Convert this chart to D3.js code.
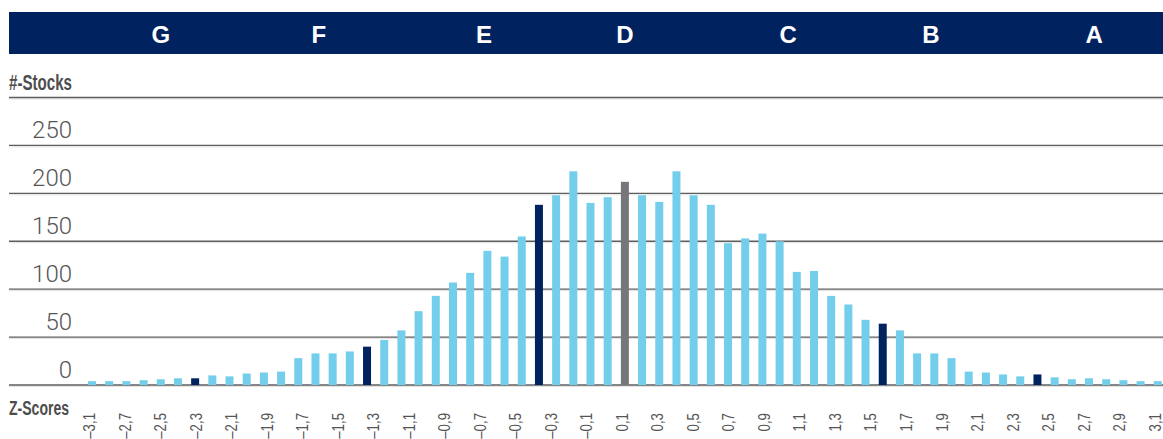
<!DOCTYPE html>
<html>
<head>
<meta charset="utf-8">
<script src="https://cdn.jsdelivr.net/npm/d3@7"></script>
<style>
  body { margin: 0; background: #fff; }
  svg { display: block; }
</style>
</head>
<body>
<svg id="canvas"></svg>
<script>
// rating bands shown in the header, with the z-score they sit over
let grades = ["G", "F", "E", "D", "C", "B", "A"]
let gradeZ = [-2.7, -1.78, -0.82, 0, 0.95, 1.78, 2.73]

// one bucket per 0.1 z-score
let buckets = [-3.1,-3.0,-2.9,-2.8,-2.7,-2.6,-2.5,-2.4,-2.3,-2.2,-2.1,-2.0,-1.9,-1.8,-1.7,-1.6,
  -1.5,-1.4,-1.3,-1.2,-1.1,-1.0,-0.9,-0.8,-0.7,-0.6,-0.5,-0.4,-0.3,-0.2,-0.1,0.0,
  0.1,0.2,0.3,0.4,0.5,0.6,0.7,0.8,0.9,1.0,1.1,1.2,1.3,1.4,1.5,1.6,
  1.7,1.8,1.9,2.0,2.1,2.2,2.3,2.4,2.5,2.6,2.7,2.8,2.9,3.0,3.1]
let stocks = [4,4,4,5,6,7,7,10,9,12,13,14,28,33,33,35,40,47,57,77,93,107,117,140,134,155,188,198,223,190,
  196,212,198,191,223,198,188,148,153,158,150,118,119,93,84,68,64,57,33,33,28,14,13,11,9,11,8,6,7,6,5,4,4]
let darkBuckets = [6, 16, 26, 46, 55]
let greyBuckets = [31]

let zLabels = ["–3,1","–2,7","–2,5","–2,3","–2,1","–1,9","–1,7","–1,5","–1,3","–1,1","–0,9","–0,7",
  "–0,5","–0,3","–0,1","0,1","0,3","0,5","0,7","0,9","1,1","1,3","1,5","1,7","1,9","2,1","2,3",
  "2,5","2,7","2,9","3,1"]
let yLabels = [0, 50, 100, 150, 200, 250]
let gridValues = [0, 50, 100, 150, 200, 250, 300]

let width = 1163
let height = 439
let left = 9

let sans = "'Liberation Sans', Arial, sans-serif"

let svg = d3.select("#canvas")
svg.attr("width", width)
svg.attr("height", height)

let step = 17.19
let xScale = d3.scaleBand()
    .domain(buckets.map((d, i) => i))
    .range([92 - step / 2, 92 - step / 2 + buckets.length * step])
    .paddingInner(0.535)
    .paddingOuter(0.2675)

let zScale = d3.scaleLinear()
    .domain([-3.1, 3.1])
    .range([92, 92 + (buckets.length - 1) * step])

let yScale = d3.scaleLinear()
    .domain([0, 300])
    .range([385, 97.5])

let labelScale = d3.scalePoint()
    .domain(zLabels)
    .range([88.5, 1154])

let drawHeader = () => {
    svg.append("rect")
        .attr("x", left)
        .attr("y", 12)
        .attr("width", width - left)
        .attr("height", 42)
        .attr("fill", "#002360")

    svg.selectAll(".grade")
        .data(grades)
        .enter()
        .append("text")
        .attr("class", "grade")
        .attr("x", (d, i) => zScale(gradeZ[i]))
        .attr("y", 43)
        .attr("text-anchor", "middle")
        .attr("fill", "#fff")
        .style("font-family", sans)
        .style("font-weight", "bold")
        .style("font-size", "24px")
        .text(d => d)
}

let drawGrid = () => {
    let g = svg.append("g")
    g.selectAll(".shadow")
        .data(gridValues)
        .enter()
        .append("line")
        .attr("x1", left).attr("x2", width)
        .attr("y1", d => yScale(d) + 1.5).attr("y2", d => yScale(d) + 1.5)
        .attr("stroke", "#e2e2e2")
        .attr("stroke-width", 1)
    g.selectAll(".grid")
        .data(gridValues)
        .enter()
        .append("line")
        .attr("x1", left).attr("x2", width)
        .attr("y1", d => yScale(d)).attr("y2", d => yScale(d))
        .attr("stroke", "#5e5e5e")
        .attr("stroke-width", 1.4)

    svg.selectAll(".ylabel")
        .data(yLabels)
        .enter()
        .append("text")
        .attr("x", 72)
        .attr("y", d => yScale(d) - 7)
        .attr("text-anchor", "end")
        .attr("fill", "#555")
        .style("font-family", "Roboto, sans-serif")
        .style("font-weight", 300)
        .style("font-size", "24px")
        .text(d => d)

    // condensed headings: squeeze a normal bold face to the reference width
    svg.append("text")
        .attr("x", left)
        .attr("y", 90)
        .attr("fill", "#4d4d4d")
        .attr("textLength", 63)
        .attr("lengthAdjust", "spacingAndGlyphs")
        .style("font-family", sans)
        .style("font-weight", "bold")
        .style("font-size", "22px")
        .text("#-Stocks")

    svg.append("text")
        .attr("x", left)
        .attr("y", 415)
        .attr("fill", "#4d4d4d")
        .attr("textLength", 60)
        .attr("lengthAdjust", "spacingAndGlyphs")
        .style("font-family", sans)
        .style("font-weight", "bold")
        .style("font-size", "19.5px")
        .text("Z-Scores")
}

let drawBars = () => {
    svg.selectAll(".bar")
        .data(stocks)
        .enter()
        .append("rect")
        .attr("class", "bar")
        .attr("x", (d, i) => xScale(i))
        .attr("width", xScale.bandwidth())
        .attr("y", d => yScale(d))
        .attr("height", d => yScale(0) - yScale(d))
        .attr("fill", (d, i) => {
            if (darkBuckets.includes(i)) {
                return "#002360"
            } else if (greyBuckets.includes(i)) {
                return "#76777b"
            } else {
                return "#72ceeb"
            }
        })
}

let drawAxis = () => {
    let xAxis = d3.axisBottom(labelScale).tickSize(0)
    let ax = svg.append("g")
        .attr("transform", "translate(0, 413)")
        .call(xAxis)
    ax.select(".domain").remove()
    ax.selectAll("text")
        .attr("transform", "rotate(-90) scale(0.78, 1)")
        .attr("x", 0)
        .attr("y", 0)
        .attr("dy", "0.36em")
        .attr("text-anchor", "end")
        .attr("fill", "#555")
        .style("font-family", sans)
        .style("font-size", "17px")
}

drawHeader()
drawGrid()
drawBars()
drawAxis()
</script>
</body>
</html>
